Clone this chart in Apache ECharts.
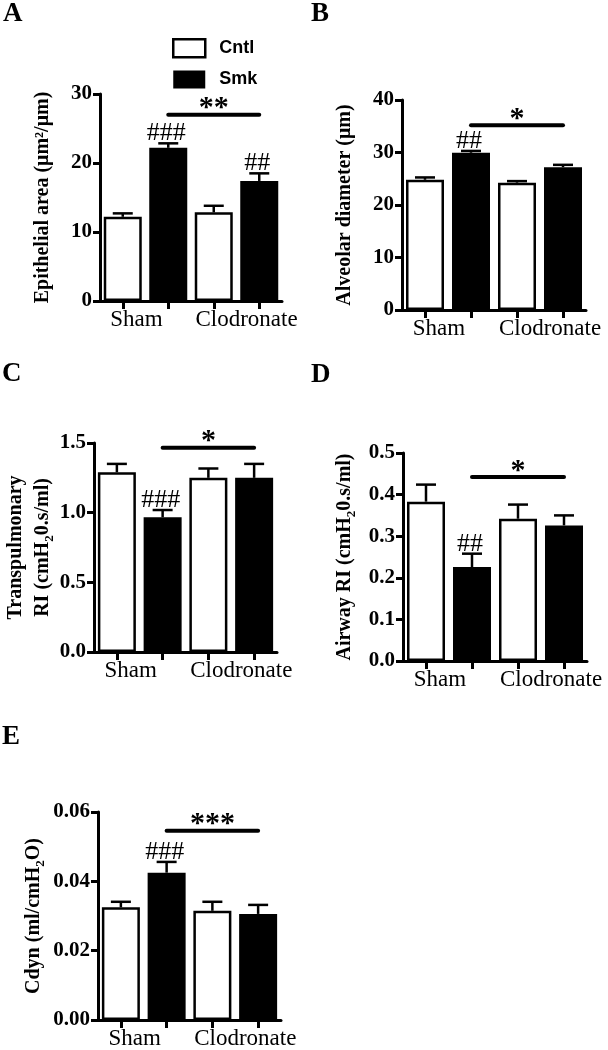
<!DOCTYPE html>
<html>
<head>
<meta charset="utf-8">
<script src="https://cdn.jsdelivr.net/npm/echarts@6/dist/echarts.min.js"></script>
<style>
html, body { margin: 0; padding: 0; background: #fff; }
#chart { width: 608px; height: 1050px; }
</style>
</head>
<body>
<div id="chart"></div>
<script>
var groups = ['Sham', 'Clodronate']
// bar order: Sham Cntl, Sham Smk, Clodronate Cntl, Clodronate Smk
var barSlots = ['Sham Cntl', 'Sham Smk', 'Clodronate Cntl', 'Clodronate Smk']

var epiMean = [12.2, 22.2, 12.85, 17.4]
var epiSem = [0.5, 0.65, 0.95, 1.1]
var epiHash = ['', '###', '', '##']
var epiSig = [1, 3, 27, '**']
var epiTicks = ['0', '10', '20', '30']

var alvMean = [24.8, 29.95, 24.25, 27.2]
var alvSem = [0.45, 0.35, 0.3, 0.45]
var alvHash = ['', '##', '', '']
var alvSig = [1, 3, 35.2, '*']
var alvTicks = ['0', '10', '20', '30', '40']

var trMean = [1.29, 0.967, 1.25, 1.25]
var trSem = [0.06, 0.052, 0.067, 0.1]
var trHash = ['', '###', '', '']
var trSig = [1, 3, 1.466, '*']
var trTicks = ['0.0', '0.5', '1.0', '1.5']

var awMean = [0.383, 0.226, 0.342, 0.326]
var awSem = [0.041, 0.032, 0.034, 0.024]
var awHash = ['', '##', '', '']
var awSig = [1, 3, 0.4425, '*']
var awTicks = ['0.0', '0.1', '0.2', '0.3', '0.4', '0.5']

var cdMean = [0.0325, 0.0425, 0.0315, 0.0306]
var cdSem = [0.0016, 0.0031, 0.0026, 0.0026]
var cdHash = ['', '###', '', '']
var cdSig = [1, 3, 0.0546, '***']
var cdTicks = ['0.00', '0.02', '0.04', '0.06']

var SERIF = '"Liberation Serif", "Times New Roman", serif'
var SANS = '"Liberation Sans", Arial, sans-serif'

var panels = [
    { letter: 'A', lx: 3, ly: 1, grid: { left: 100, top: 94, width: 182, height: 207 }, gap: 44,
      name: 'Epithelial area (μm²/μm)', mean: epiMean, sem: epiSem, hash: epiHash, sig: epiSig, ticks: epiTicks },
    { letter: 'B', lx: 311, ly: 1, grid: { left: 402, top: 100, width: 184, height: 210 }, gap: 44,
      name: 'Alveolar diameter (μm)', mean: alvMean, sem: alvSem, hash: alvHash, sig: alvSig, ticks: alvTicks },
    { letter: 'C', lx: 2, ly: 361, grid: { left: 94, top: 443, width: 183, height: 209 }, gap: 36,
      name: 'Transpulmonary\nRI (cmH{s|2}0.s/ml)', mean: trMean, sem: trSem, hash: trHash, sig: trSig, ticks: trTicks },
    { letter: 'D', lx: 311, ly: 362, grid: { left: 403, top: 453, width: 184, height: 208 }, gap: 45,
      name: 'Airway RI (cmH{s|2}0.s/ml)', mean: awMean, sem: awSem, hash: awHash, sig: awSig, ticks: awTicks },
    { letter: 'E', lx: 2, ly: 724, grid: { left: 98, top: 812, width: 183, height: 210 }, gap: 51,
      name: 'Cdyn (ml/cmH{s|2}O)', mean: cdMean, sem: cdSem, hash: cdHash, sig: cdSig, ticks: cdTicks }
]

var chart = echarts.init(document.getElementById('chart'))

var titles = [], grids = [], xAxes = [], yAxes = [], series = []

function pick(arr, idx) {
    return arr.map(function (v, i) { return idx.indexOf(i) >= 0 ? v : '-' })
}

panels.forEach(function (p, gi) {
    titles.push({
        text: p.letter, left: p.lx, top: p.ly, padding: 0,
        textStyle: { fontFamily: SERIF, fontWeight: 'bold', fontSize: 27, color: '#000' }
    })
    grids.push(p.grid)

    var tmin = parseFloat(p.ticks[0])
    var tint = parseFloat(p.ticks[1]) - tmin
    var tmax = parseFloat(p.ticks[p.ticks.length - 1])

    xAxes.push({
        type: 'category', gridIndex: gi, data: barSlots, position: 'bottom',
        axisLine: { show: true, lineStyle: { color: '#000', width: 3 } },
        axisTick: { show: true, alignWithLabel: true, interval: 0, length: 8, lineStyle: { color: '#000', width: 3 } },
        axisLabel: { show: true, interval: 0, formatter: function () { return '' } }
    })
    xAxes.push({
        type: 'category', gridIndex: gi, data: groups, position: 'bottom',
        axisLine: { show: false }, axisTick: { show: false },
        axisLabel: {
            interval: 0, hideOverlap: false,
            margin: 7, color: '#000', fontFamily: SERIF, fontSize: 23,
            formatter: function (v, i) { return i === 0 ? '{l|' + v + '}' : '{r|' + v + '}' },
            rich: {
                l: { fontFamily: SERIF, fontSize: 23, color: '#000', padding: [0, 18, 0, 0] },
                r: { fontFamily: SERIF, fontSize: 23, color: '#000', padding: [0, 0, 0, 20] }
            }
        }
    })
    yAxes.push({
        type: 'value', gridIndex: gi, min: tmin, max: tmax, interval: tint,
        axisLine: { show: true, lineStyle: { color: '#000', width: 3 } },
        axisTick: { show: true, length: 7, lineStyle: { color: '#000', width: 3 } },
        splitLine: { show: false },
        axisLabel: {
            margin: 8, color: '#000', fontFamily: SERIF, fontWeight: 'bold', fontSize: 21,
            formatter: function (v) { return p.ticks[Math.round((v - tmin) / tint)] }
        },
        name: p.name, nameLocation: 'middle', nameRotate: 90, nameGap: p.gap,
        nameTextStyle: {
            color: '#000', fontFamily: SERIF, fontWeight: 'bold', fontSize: 20, lineHeight: 27, align: 'center',
            rich: { s: { fontFamily: SERIF, fontWeight: 'bold', fontSize: 13, color: '#000', verticalAlign: 'bottom', padding: [7, 0, 0, 0] } }
        }
    })

    series.push({
        name: 'Cntl', type: 'bar', xAxisIndex: gi * 2, yAxisIndex: gi,
        data: pick(p.mean, [0, 2]), barWidth: 38, barGap: '-100%',
        itemStyle: { color: '#fff', borderColor: '#000', borderWidth: 2.5 }
    })
    series.push({
        name: 'Smk', type: 'bar', xAxisIndex: gi * 2, yAxisIndex: gi,
        data: pick(p.mean, [1, 3]), barWidth: 38, barGap: '-100%',
        itemStyle: { color: '#000', borderColor: '#000', borderWidth: 2.5 }
    })
    // error bars (mean to mean + sem)
    series.push({
        type: 'custom', xAxisIndex: gi * 2, yAxisIndex: gi, z: 5,
        data: p.mean.map(function (m, i) { return [i, m, m + p.sem[i]] }),
        encode: { x: 0, y: [1, 2] },
        renderItem: function (params, api) {
            var b = api.coord([api.value(0), api.value(1)])
            var t = api.coord([api.value(0), api.value(2)])
            var st = { stroke: '#000', lineWidth: 2.5 }
            return { type: 'group', children: [
                { type: 'line', shape: { x1: b[0], y1: b[1], x2: t[0], y2: t[1] }, style: st },
                { type: 'line', shape: { x1: t[0] - 10, y1: t[1], x2: t[0] + 10, y2: t[1] }, style: st }
            ] }
        }
    })
    // hash marks above error bars
    series.push({
        type: 'custom', xAxisIndex: gi * 2, yAxisIndex: gi, z: 6,
        data: p.mean.map(function (m, i) { return [i, m + p.sem[i]] }),
        encode: { x: 0, y: 1 },
        renderItem: function (params, api) {
            var t = api.coord([api.value(0), api.value(1)])
            return { type: 'text', x: t[0] - 2, y: t[1] + 3, style: {
                text: p.hash[params.dataIndex], fill: '#000', font: '26px ' + SERIF,
                align: 'center', verticalAlign: 'bottom'
            } }
        }
    })
    // significance line with stars
    series.push({
        type: 'custom', xAxisIndex: gi * 2, yAxisIndex: gi, z: 6,
        data: [[p.sig[0], p.sig[1], p.sig[2]]],
        encode: { x: [0, 1], y: 2 },
        renderItem: function (params, api) {
            var a = api.coord([api.value(0), api.value(2)])
            var b = api.coord([api.value(1), api.value(2)])
            return { type: 'group', children: [
                { type: 'line', shape: { x1: a[0], y1: a[1], x2: b[0], y2: b[1] }, style: { stroke: '#000', lineWidth: 4, lineCap: 'round' } },
                { type: 'text', x: (a[0] + b[0]) / 2, y: a[1] + 9, style: {
                    text: p.sig[3], fill: '#000', font: 'bold 30px ' + SERIF, align: 'center', verticalAlign: 'bottom'
                } }
            ] }
        }
    })
})

var option = {
    animation: false,
    backgroundColor: '#fff',
    title: titles,
    legend: {
        left: 167, top: 33, orient: 'vertical', itemWidth: 32, itemHeight: 18, itemGap: 12,
        selectedMode: false,
        textStyle: { fontFamily: SANS, fontWeight: 'bold', fontSize: 18, color: '#000', padding: [0, 0, 0, 9] },
        data: [
            { name: 'Cntl', icon: 'rect', itemStyle: { color: '#fff', borderColor: '#000', borderWidth: 2.5 } },
            { name: 'Smk', icon: 'rect', itemStyle: { color: '#000', borderColor: '#000', borderWidth: 0 } }
        ]
    },
    grid: grids,
    xAxis: xAxes,
    yAxis: yAxes,
    series: series
}
chart.setOption(option)
</script>
</body>
</html>
